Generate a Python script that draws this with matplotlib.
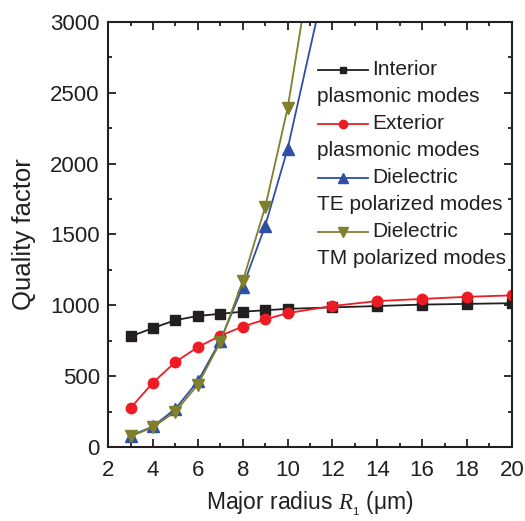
import matplotlib.pyplot as plt
from matplotlib.ticker import MultipleLocator

plt.rcParams['font.family'] = ['Liberation Sans', 'DejaVu Sans']
plt.rcParams['mathtext.fontset'] = 'custom'
plt.rcParams['mathtext.rm'] = 'Liberation Sans'
plt.rcParams['mathtext.it'] = 'Liberation Serif:italic'

# data
radius = [3, 4, 5, 6, 7, 8, 9, 10, 12, 14, 16, 18, 20]
interior = [780, 840, 895, 925, 940, 955, 965, 975, 985, 995, 1005, 1010, 1015]
exterior = [275, 455, 600, 705, 785, 850, 900, 945, 995, 1030, 1045, 1060, 1070]
radius_diel = [3, 4, 5, 6, 7, 8, 9, 10, 12]
te_modes = [80, 145, 270, 465, 750, 1130, 1560, 2103, 3515]
tm_modes = [75, 140, 250, 440, 740, 1170, 1692, 2390, 4330]

labels = [('Interior', 'plasmonic modes'),
          ('Exterior', 'plasmonic modes'),
          ('Dielectric', 'TE polarized modes'),
          ('Dielectric', 'TM polarized modes')]
colors = ['#231f20', '#ed1c24', '#2e4fa3', '#7f7f2e']
markers = ['s', 'o', '^', 'v']
txt = '#231f20'

fig = plt.figure(figsize=(5.25, 5.21), dpi=100)
ax = fig.add_axes([0.206, 0.142, 0.769, 0.816])

series = [(radius, interior), (radius, exterior), (radius_diel, te_modes), (radius_diel, tm_modes)]
msizes = [6.5, 7.5, 8, 8]
for (xs, ys), c, m, ms in zip(series, colors, markers, msizes):
    ax.plot(xs, ys, color=c, marker=m, markersize=ms, lw=1.3)

ax.set_xlim(2, 20)
ax.set_ylim(0, 3000)
ax.xaxis.set_major_locator(MultipleLocator(2))
ax.xaxis.set_minor_locator(MultipleLocator(1))
ax.yaxis.set_major_locator(MultipleLocator(500))
ax.yaxis.set_minor_locator(MultipleLocator(250))
ax.tick_params(which='both', direction='in', top=True, right=True, width=1.3,
               labelsize=16, colors=txt)
ax.tick_params(which='major', length=6)
ax.tick_params(axis='x', pad=9)
ax.tick_params(axis='y', pad=6)
ax.tick_params(which='minor', length=3)
for s in ax.spines.values():
    s.set_linewidth(1.5)
    s.set_color(txt)

ax.set_xlabel(r'Major radius $R_{\mathrm{_1}}$ (μm)', fontsize=16.5, color=txt)
ax.set_ylabel('Quality factor', fontsize=18.5, color=txt)
ax.xaxis.set_label_coords(0.5, -0.1)
ax.yaxis.set_label_coords(-0.178, 0.5)

# legend drawn by hand so the handle sits on the first text line
y0 = 0.887
dy = 0.0635
for i, ((l1, l2), c, m, ms) in enumerate(zip(labels, colors, markers, msizes)):
    y = y0 - 2 * i * dy
    ax.plot([0.52, 0.644], [y, y], color=c, lw=1.3, transform=ax.transAxes)
    ax.plot([0.582], [y], color=c, marker=m, markersize=ms - 1.5, transform=ax.transAxes)
    ax.text(0.655, y, l1, transform=ax.transAxes, fontsize=15, va='center', ha='left', color=txt)
    ax.text(0.518, y - dy, l2, transform=ax.transAxes, fontsize=15, va='center', ha='left', color=txt)

fig.savefig('out.png', dpi=100)
